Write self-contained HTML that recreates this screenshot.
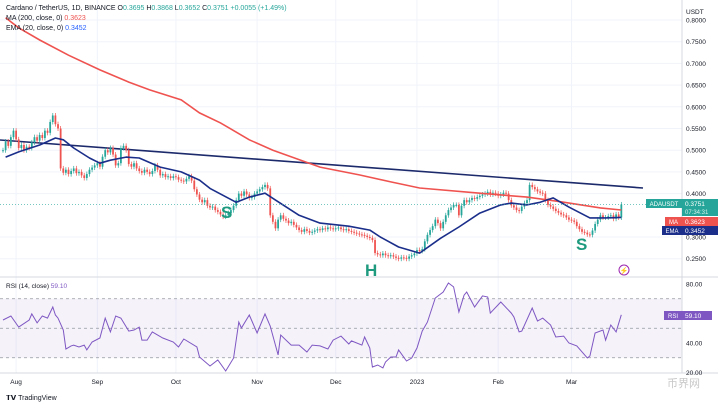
<!DOCTYPE html>
<html><head><meta charset="utf-8"><style>
body{margin:0;background:#fff;overflow:hidden}
svg{display:block;font-family:"Liberation Sans",sans-serif}
</style></head><body>
<svg id="c" width="718" height="405" viewBox="0 0 718 405">
<rect x="0" y="0" width="718" height="405" fill="#fff"/>
<g id="grid"></g>
<g id="rsiBand"></g>
<line x1="0" y1="140" x2="643" y2="188" stroke="#1c2a6b" stroke-width="1.6"/>
<g id="candles"></g>
<g id="lines"></g>
<line x1="682" y1="0" x2="682" y2="373" stroke="#d6d9e0" stroke-width="1"/>
<line x1="0" y1="277" x2="718" y2="277" stroke="#d6d9e0" stroke-width="1"/>
<line x1="0" y1="373" x2="718" y2="373" stroke="#d6d9e0" stroke-width="1"/>
<g id="axes"></g>
<text x="6" y="10" font-size="7" fill="#131722">Cardano / TetherUS, 1D, BINANCE <tspan fill="#131722">O</tspan><tspan fill="#26a69a">0.3695</tspan> <tspan fill="#131722">H</tspan><tspan fill="#26a69a">0.3868</tspan> <tspan fill="#131722">L</tspan><tspan fill="#26a69a">0.3652</tspan> <tspan fill="#131722">C</tspan><tspan fill="#26a69a">0.3751 +0.0055 (+1.49%)</tspan></text>
<text x="6" y="20" font-size="7" fill="#131722">MA (200, close, 0) <tspan fill="#ef5350">0.3623</tspan></text>
<text x="6" y="30" font-size="7" fill="#131722">EMA (20, close, 0) <tspan fill="#2962ff">0.3452</tspan></text>
<text x="6" y="288" font-size="6.5" fill="#131722">RSI (14, close) <tspan fill="#7e57c2">59.10</tspan></text>
<text x="221" y="218" font-size="17" font-weight="bold" fill="#1e9a7f">S</text>
<text x="365" y="276" font-size="17" font-weight="bold" fill="#1e9a7f">H</text>
<text x="576" y="250" font-size="17" font-weight="bold" fill="#1e9a7f">S</text>
<g><circle cx="624" cy="270" r="5" fill="#fff" stroke="#9c27b0" stroke-width="1"/><text x="624" y="273" font-size="7" fill="#9c27b0" text-anchor="middle">⚡</text></g>
<text x="686" y="14" font-size="6.5" fill="#131722">USDT</text>
<g>
<rect x="646" y="199" width="36" height="9" fill="#26a69a"/><text x="664" y="206" font-size="6" fill="#fff" text-anchor="middle">ADAUSDT</text>
<rect x="682" y="199" width="36" height="17" fill="#26a69a"/><text x="685" y="206" font-size="6.5" fill="#fff">0.3751</text><text x="685" y="214" font-size="6" fill="#d8f0ec">07:34:31</text></g>
<g>
<rect x="665" y="217" width="17" height="9" fill="#ef5350"/><text x="673.5" y="224" font-size="6" fill="#fff" text-anchor="middle">MA</text>
<rect x="682" y="217" width="36" height="9" fill="#ef5350"/><text x="685" y="224" font-size="6.5" fill="#fff">0.3623</text></g>
<g>
<rect x="662" y="226" width="20" height="9" fill="#1a2e8a"/><text x="672" y="233" font-size="6" fill="#fff" text-anchor="middle">EMA</text>
<rect x="682" y="226" width="36" height="9" fill="#1a2e8a"/><text x="685" y="233" font-size="6.5" fill="#fff">0.3452</text></g>
<g>
<rect x="664" y="311" width="18" height="9" fill="#7e57c2"/><text x="673" y="318" font-size="6" fill="#fff" text-anchor="middle">RSI</text>
<rect x="682" y="311" width="30" height="9" fill="#7e57c2"/><text x="685" y="318" font-size="6.5" fill="#fff">59.10</text></g>
<text x="6" y="400" font-size="7" font-weight="bold" fill="#131722">𝗧𝗩 <tspan font-weight="normal">TradingView</tspan></text>
<text x="700" y="387" font-size="11" fill="#c8c8c8" text-anchor="end">币界网</text>
</svg>
<script>
const closes=[0.500,0.520,0.510,0.530,0.545,0.525,0.505,0.512,0.500,0.508,
0.505,0.518,0.530,0.522,0.535,0.528,0.545,0.540,0.565,0.580,
0.560,0.550,0.458,0.448,0.455,0.445,0.452,0.458,0.447,0.450,
0.442,0.436,0.445,0.455,0.460,0.465,0.470,0.462,0.485,0.500,
0.495,0.505,0.490,0.465,0.470,0.505,0.510,0.500,0.468,0.462,
0.470,0.458,0.452,0.448,0.455,0.450,0.445,0.452,0.465,0.455,
0.442,0.445,0.438,0.440,0.436,0.440,0.438,0.432,0.430,0.428,
0.434,0.440,0.430,0.410,0.398,0.386,0.380,0.385,0.372,0.368,
0.370,0.362,0.358,0.352,0.347,0.350,0.355,0.362,0.372,0.385,
0.400,0.395,0.405,0.398,0.390,0.392,0.400,0.405,0.410,0.415,
0.420,0.412,0.350,0.335,0.320,0.340,0.350,0.342,0.338,0.332,
0.335,0.328,0.322,0.316,0.312,0.318,0.314,0.310,0.312,0.315,
0.318,0.316,0.320,0.318,0.322,0.320,0.318,0.320,0.322,0.318,
0.316,0.318,0.314,0.312,0.310,0.308,0.306,0.305,0.303,0.300,
0.298,0.293,0.263,0.260,0.258,0.262,0.258,0.256,0.258,0.255,
0.252,0.250,0.253,0.252,0.250,0.255,0.258,0.262,0.270,0.268,
0.272,0.290,0.305,0.316,0.325,0.340,0.332,0.320,0.335,0.350,
0.362,0.368,0.374,0.374,0.350,0.372,0.385,0.380,0.385,0.390,
0.388,0.392,0.395,0.398,0.400,0.404,0.398,0.402,0.400,0.395,
0.398,0.402,0.400,0.385,0.373,0.368,0.362,0.360,0.370,0.378,
0.385,0.420,0.415,0.410,0.405,0.402,0.400,0.385,0.374,0.370,
0.365,0.360,0.356,0.352,0.350,0.345,0.340,0.338,0.335,0.325,
0.318,0.312,0.310,0.306,0.305,0.315,0.330,0.340,0.350,0.345,
0.345,0.348,0.350,0.342,0.352,0.345,0.375];
const emaDays=[1,6,14,20,23,27,33,37,41,47,52,60,68,75,79,89,94,100,104,113,121,132,140,144,151,159,167,174,182,190,194,200,205,210,216,224,230,236];
const emaVals=[0.484,0.496,0.512,0.528,0.524,0.505,0.482,0.470,0.477,0.484,0.482,0.461,0.450,0.431,0.412,0.380,0.392,0.401,0.385,0.350,0.332,0.325,0.316,0.300,0.277,0.263,0.297,0.323,0.355,0.374,0.378,0.374,0.380,0.390,0.369,0.344,0.344,0.3452];
const maDays=[1,6,14,25,37,48,56,68,75,83,94,103,121,136,148,159,182,200,213,228,236];
const maVals=[0.805,0.782,0.754,0.719,0.685,0.657,0.639,0.616,0.586,0.563,0.524,0.500,0.461,0.443,0.427,0.413,0.401,0.392,0.381,0.367,0.3623];
const rsiDays=[0,3,6,10,11,13,15,17,19,20,21,23,24,26,27,29,31,32,34,37,39,41,43,45,48,50,52,53,55,57,61,65,67,69,74,75,79,82,85,88,90,91,94,97,100,102,105,106,110,113,116,118,121,124,126,129,132,133,137,138,140,141,143,145,146,148,150,151,154,156,158,160,162,165,168,170,172,174,176,177,180,183,185,186,190,194,195,197,198,202,204,206,209,211,214,216,219,223,224,226,229,230,232,234,236];
const rsiVals=[55.6,58.3,50.8,55.6,59.7,53.6,58.3,56.9,64.4,59.0,56.9,48.8,35.9,38.0,38.6,37.3,38.6,35.3,40.7,43.4,56.9,47.5,58.3,56.9,48.1,48.8,50.8,42.0,42.0,47.5,43.4,40.7,37.3,42.7,37.3,30.5,24.4,28.5,21.0,29.8,54.2,50.2,59.0,46.8,59.7,51.5,31.9,45.4,38.6,38.6,33.9,38.6,38.0,35.9,42.0,44.7,39.3,41.4,38.6,44.1,36.6,23.7,25.1,23.1,27.1,30.5,30.5,35.3,27.8,29.8,36.6,48.1,54.2,70.5,74.6,80.7,78.0,61.0,72.5,74.6,64.4,71.9,71.2,60.3,67.8,60.3,57.6,47.5,48.1,63.7,54.9,56.9,52.2,44.1,44.7,40.0,38.0,29.8,31.2,46.8,48.8,42.0,52.2,47.5,59.1];
const priceTicks=[0.80,0.75,0.70,0.65,0.60,0.55,0.50,0.45,0.40,0.30,0.25];
const rsiTicks=[80,40,20];
const monthLabels=["Aug","Sep","Oct","Nov","Dec","2023","Feb","Mar"];
const monthDays=[5,36,66,97,127,158,189,217];

const NS="http://www.w3.org/2000/svg";
const X=d=>3+d*2.62;
const Y=p=>20+(0.8-p)*434;
const RY=r=>284+(80-r)*1.475;
function mk(tag,attrs,parent){const e=document.createElementNS(NS,tag);for(const k in attrs)e.setAttribute(k,attrs[k]);parent.appendChild(e);return e;}
const grid=document.getElementById('grid'),axes=document.getElementById('axes');
monthDays.forEach((d,i)=>{
  const gl=mk('line',{x1:X(d),x2:X(d),y1:0,y2:373,stroke:'#f0f3fa','stroke-width':1},grid);
  
  
  const t=mk('text',{x:X(d),y:384,'font-size':6.5,fill:'#131722','text-anchor':'middle'},axes);
  t.textContent=monthLabels[i];
  
  
});
priceTicks.forEach(p=>{
  const gl=mk('line',{x1:0,x2:682,y1:Y(p),y2:Y(p),stroke:'#f0f3fa','stroke-width':1},grid);
  
  
  const t=mk('text',{x:686,y:Y(p)+2.5,'font-size':6.5,fill:'#131722'},axes);
  t.textContent=p.toFixed(4);
  
  
});
rsiTicks.forEach(r=>{
  const t=mk('text',{x:686,y:RY(r)+2.5,'font-size':6.5,fill:'#131722'},axes);
  t.textContent=r.toFixed(2);
  
  
});
const band=document.getElementById('rsiBand');
const br=mk('rect',{x:0,y:RY(70),width:682,height:RY(30)-RY(70),fill:'#7e57c2','fill-opacity':0.08},band);


[70,50,30].forEach(r=>{
  const l=mk('line',{x1:0,x2:682,y1:RY(r),y2:RY(r),stroke:'#9598a1','stroke-width':0.8,'stroke-dasharray':'3,3'},band);
  
  
});
const cg=document.getElementById('candles');
closes.forEach((c,i)=>{
  const o=i>0?closes[i-1]:c;
  const up=c>=o,col=up?'#26a69a':'#ef5350';
  const yt=Math.min(Y(o),Y(c)),yb=Math.max(Y(o),Y(c));
  const g=mk('g',{},cg);
  
  
  mk('line',{x1:X(i),x2:X(i),y1:yt-2.5,y2:yb+2.5,stroke:col,'stroke-width':0.7},g);
  mk('rect',{x:X(i)-0.9,y:yt,width:1.8,height:Math.max(1,yb-yt),fill:col},g);
});
const lg=document.getElementById('lines');
function path(ds,vs,fy){return ds.map((d,i)=>(i?'L':'M')+X(d).toFixed(1)+','+fy(vs[i]).toFixed(1)).join(' ');}
const ma=mk('path',{d:path(maDays,maVals,Y),fill:'none',stroke:'#ef5350','stroke-width':1.6},lg);


const ema=mk('path',{d:path(emaDays,emaVals,Y),fill:'none',stroke:'#1a2e8a','stroke-width':1.6,'stroke-linejoin':'round'},lg);


const rsi=mk('path',{d:path(rsiDays,rsiVals,RY),fill:'none',stroke:'#7e57c2','stroke-width':1},lg);


const lp=mk('line',{x1:0,x2:682,y1:Y(0.3751),y2:Y(0.3751),stroke:'#26a69a','stroke-width':0.6,'stroke-dasharray':'1,2'},lg);


</script>
</body></html>
